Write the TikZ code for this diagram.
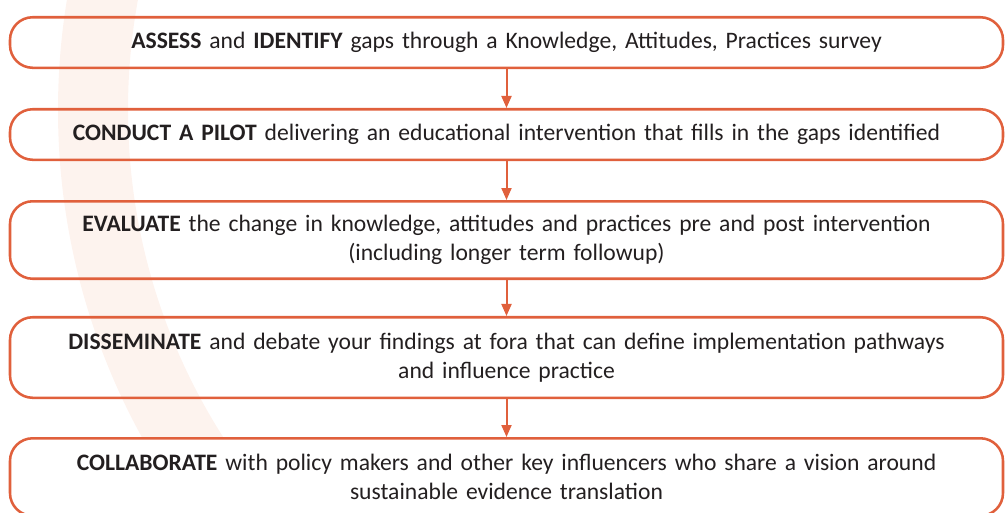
\documentclass[tikz,border=0pt]{standalone}
\usepackage{fontspec}
\setmainfont{Carlito}
\usepackage{tikz}
\usetikzlibrary{arrows.meta}
\definecolor{stepline}{HTML}{E0603C}
\definecolor{bandpeach}{HTML}{FDF3EE}
\definecolor{steptext}{HTML}{231F20}
\tikzstyle{stepbox}=[draw=stepline, fill=none, line width=1.9pt, rounded corners=17pt, minimum width=744.75pt, text width=730pt, inner sep=0pt, align=center, text=steptext, font=\fontsize{17.7}{21.75}\selectfont]
\tikzstyle{arrow}=[draw=stepline, line width=1.5pt, -{Triangle[length=9pt, width=7.5pt]}]

\begin{document}
\begin{tikzpicture}[x=0.75pt, y=-0.75pt]
		   \useasboundingbox (0, 0) rectangle (1006, 512);
		   \clip (0, 0) rectangle (1006, 512);
		   % pale band behind the steps, stops at the last box
		   \begin{scope}
		   \clip (0, 0) rectangle (1006, 436);
		   \draw[bandpeach, line width=52.5pt] (737, 110) circle (644);
		   \end{scope}
		   \node (assess) at (506.5, 42.5)[stepbox, minimum height=37.9pt] {\textbf{ASSESS} and \textbf{IDENTIFY} gaps through a Knowledge, Attitudes, Practices survey};
		   \node (pilot) at (506.5, 134.5)[stepbox, minimum height=37.9pt] {\textbf{CONDUCT A PILOT} delivering an educational intervention that fills in the gaps identified};
		   \node (evaluate) at (506.5, 240)[stepbox, minimum height=58.1pt] {\textbf{EVALUATE} the change in knowledge, attitudes and practices pre and post intervention\\(including longer term followup)};
		   \node (disseminate) at (506.5, 357.5)[stepbox, minimum height=60.4pt] {\textbf{DISSEMINATE} and debate your findings at fora that can define implementation pathways\\and influence practice};
		   \node (collaborate) at (506.5, 477)[stepbox, minimum height=58.1pt] {\textbf{COLLABORATE} with policy makers and other key influencers who share a vision around\\sustainable evidence translation};
		   \draw[arrow] (assess) -- (pilot);
		   \draw[arrow] (pilot) -- (evaluate);
		   \draw[arrow] (evaluate) -- (disseminate);
		   \draw[arrow] (disseminate) -- (collaborate);
	   \end{tikzpicture}
\end{document}
